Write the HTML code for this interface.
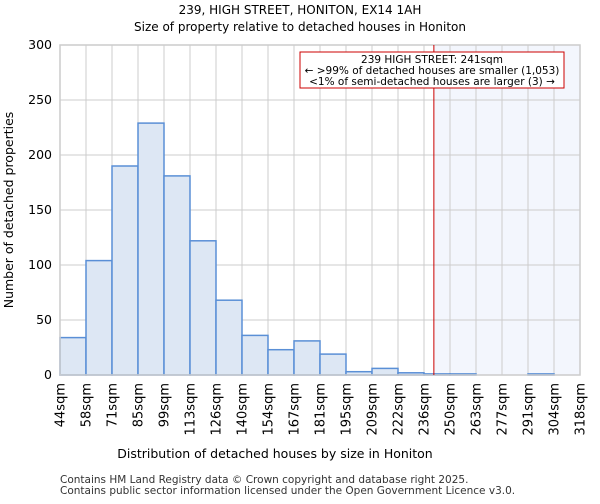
<!DOCTYPE html>
<html><head><meta charset="utf-8"><style>
body{margin:0;background:#fff;font-family:"DejaVu Sans","Liberation Sans",sans-serif;}
</style></head><body>
<svg id="c" width="600" height="500" xmlns="http://www.w3.org/2000/svg" font-family="DejaVu Sans, Liberation Sans, sans-serif">
<text x="300" y="14" text-anchor="middle" font-size="12">239, HIGH STREET, HONITON, EX14 1AH</text>
<text x="300" y="31" text-anchor="middle" font-size="12">Size of property relative to detached houses in Honiton</text>
<g id="plot"></g>
<text x="275" y="458" text-anchor="middle" font-size="12.5">Distribution of detached houses by size in Honiton</text>
<text transform="translate(13,210) rotate(-90)" text-anchor="middle" font-size="12.5">Number of detached properties</text>
<text x="60" y="483" font-size="10.5" fill="#333">Contains HM Land Registry data © Crown copyright and database right 2025.</text>
<text x="60" y="494" font-size="10.5" fill="#333">Contains public sector information licensed under the Open Government Licence v3.0.</text>
</svg>
<script>
const categories=["44sqm","58sqm","71sqm","85sqm","99sqm","113sqm","126sqm","140sqm","154sqm","167sqm","181sqm","195sqm","209sqm","222sqm","236sqm","250sqm","263sqm","277sqm","291sqm","304sqm","318sqm"];
const counts=[34,104,190,229,181,122,68,36,23,31,19,3,6,2,1,1,0,0,1,0];
const yTicks=[0,50,100,150,200,250,300];
const propertySize=241;
const binStart=44, binWidth=13.7;
const NS="http://www.w3.org/2000/svg";
const g=document.getElementById("plot");
const X0=60,X1=580,Y0=375,Y1=45,YMAX=300;
const bw=(X1-X0)/counts.length;
const x=i=>X0+i*bw;
const xv=v=>X0+(v-binStart)/binWidth*bw;
const y=v=>Y0-(v/YMAX)*(Y0-Y1);
function el(t,a){const e=document.createElementNS(NS,t);for(const k in a)e.setAttribute(k,a[k]);g.appendChild(e);return e;}
const rx=xv(propertySize);
let sh=el("rect",{x:rx,y:Y1,width:X1-rx,height:Y0-Y1,fill:"#f3f6fd"});


yTicks.forEach(t=>{
 let l=el("line",{x1:X0,x2:X1,y1:y(t),y2:y(t),stroke:"#ccc"});
 
 
 let tx=el("text",{x:X0-8,y:y(t)+4,"text-anchor":"end","font-size":"12.5"});
 tx.textContent=t;
 
 
});
categories.forEach((c,i)=>{
 let l=el("line",{x1:x(i),x2:x(i),y1:Y1,y2:Y0,stroke:"#ccc"});
 
 
 let tx=el("text",{transform:`translate(${x(i)+4.5},${Y0+8}) rotate(-90)`,"text-anchor":"end","font-size":"13"});
 tx.textContent=c;
 
 
});
counts.forEach((v,i)=>{
 let r=el("rect",{x:x(i),y:y(v),width:bw,height:Y0-y(v),fill:"#dde7f4",stroke:"#5a8fd6","stroke-width":1.5});
 
 
});
let ax=el("rect",{x:X0,y:Y1,width:X1-X0,height:Y0-Y1,fill:"none",stroke:"#ccc","stroke-width":1.5});


let pl=el("line",{x1:rx,x2:rx,y1:Y1,y2:Y0,stroke:"#cc0000","stroke-width":1});


let box=el("rect",{x:300,y:52,width:264,height:36,fill:"#fff",stroke:"#cc0000"});


["239 HIGH STREET: 241sqm","← >99% of detached houses are smaller (1,053)","<1% of semi-detached houses are larger (3) →"].forEach((s,i)=>{
 let t=el("text",{x:432,y:63+i*11,"text-anchor":"middle","font-size":"10.5"});
 t.textContent=s;
 
 
});
</script>
</body></html>
